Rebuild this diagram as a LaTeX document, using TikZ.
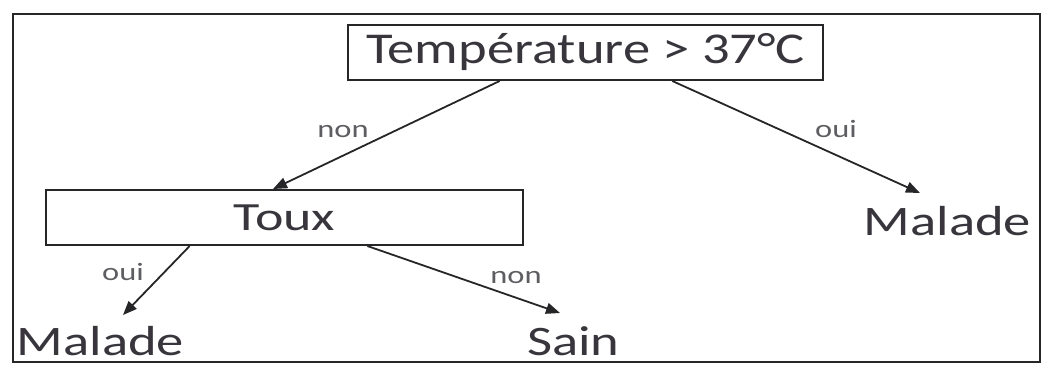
\documentclass[tikz,border=0pt]{standalone}
\usepackage{fontspec}
\usepackage{graphicx}
\setmainfont{Carlito}
\usetikzlibrary{arrows.meta,calc}
\definecolor{ink}{HTML}{38363C}
\definecolor{lab}{HTML}{5E5E62}
\definecolor{wire}{HTML}{262628}
\newcommand\wide[2]{\scalebox{#1}[1]{#2}}
\begin{document}
\begin{tikzpicture}[x=1pt,y=-1pt,
  box/.style={draw=wire,line width=2pt,inner sep=0pt,text=ink},
  leaf/.style={inner sep=0pt,anchor=base,text=ink,font=\fontsize{42}{50}\selectfont},
  lbl/.style={inner sep=0pt,anchor=base,text=lab,font=\fontsize{25}{30}\selectfont},
  arr/.style={draw=wire,line width=1.8pt,-{Triangle[length=14pt,width=11pt]}}]
\useasboundingbox (0,0) rectangle (1046,364);
% outer frame
\draw[wire,line width=2.6pt] (13,14) rectangle (1040,362);
% decision boxes
\node[box,minimum width=475pt,minimum height=55pt,font=\fontsize{44}{52}\selectfont] (top) at (585.5,52.5) {\wide{1.24}{Température > 37°C}};
\node[box,minimum width=477pt,minimum height=55pt,font=\fontsize{40}{48}\selectfont] (toux) at (284.5,217.5) {\wide{1.35}{Toux}\hspace{22pt}};
% leaves
\node[leaf] (maladeR) at (947.5,235) {\wide{1.3}{Malade}};
\node[leaf] (maladeL) at (100.5,355) {\wide{1.3}{Malade}};
\node[leaf] (sain) at (573.5,355) {\wide{1.3}{Sain}};
% arrow tips above the leaves
\coordinate (tipR) at (920,193);
\coordinate (tipL) at (123,315);
\coordinate (tipS) at (560,313);
% connectors
\draw[arr] ($(top.south west)!0.32!(top.south east)$) -- ($(toux.north west)!0.476!(toux.north east)$);
\draw[arr] ($(top.south west)!0.682!(top.south east)$) -- (tipR);
\draw[arr] ($(toux.south west)!0.302!(toux.south east)$) -- (tipL);
\draw[arr] ($(toux.south west)!0.673!(toux.south east)$) -- (tipS);
% labels
\node[lbl] (l1) at (343,137) {\wide{1.3}{non}};
\node[lbl] (l2) at (836,137) {\wide{1.3}{oui}};
\node[lbl] (l3) at (123,280) {\wide{1.3}{oui}};
\node[lbl] (l4) at (516,283) {\wide{1.3}{non}};
\end{tikzpicture}
\end{document}
